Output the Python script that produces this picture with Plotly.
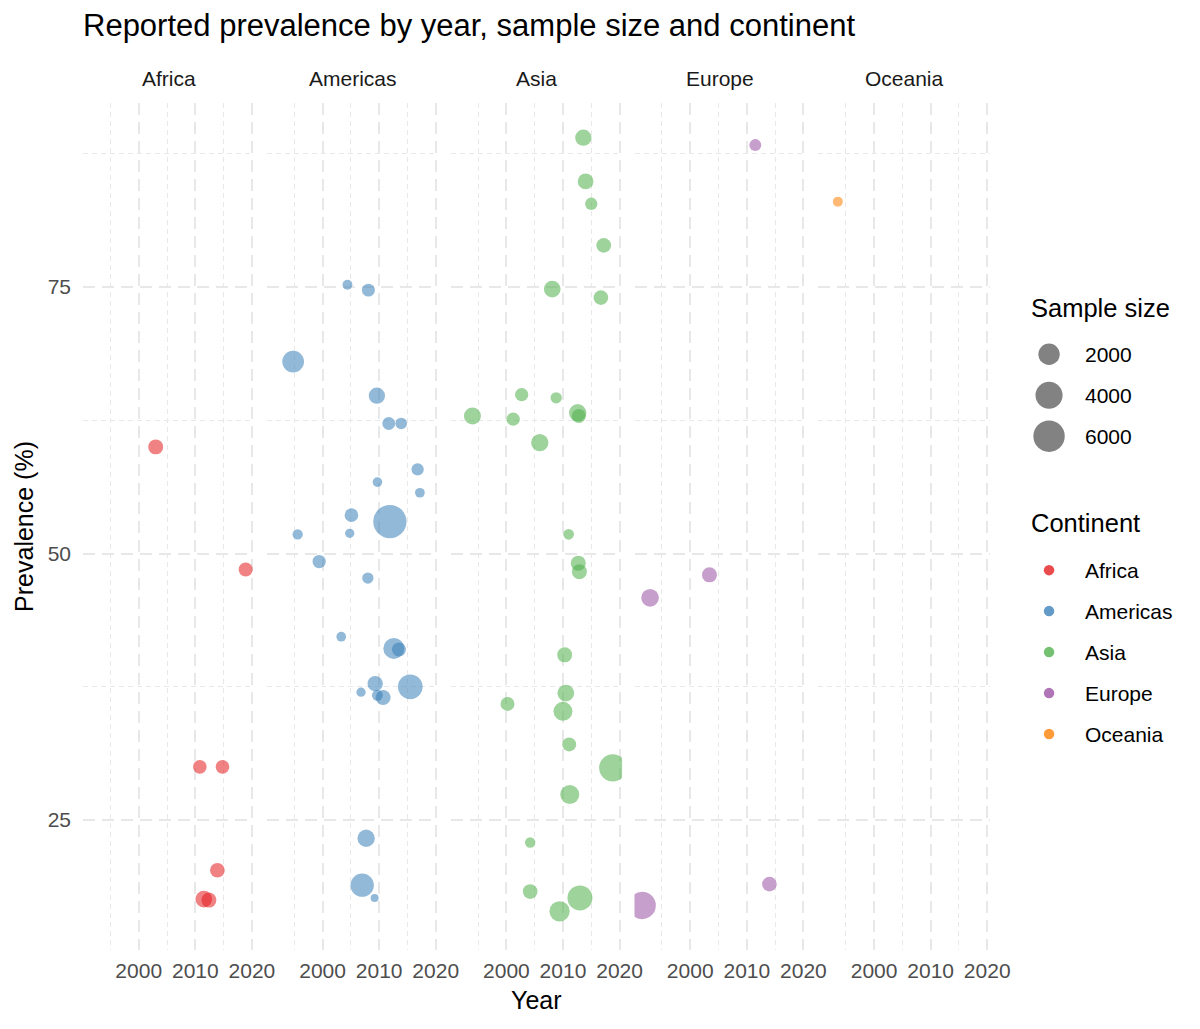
import math

import plotly.graph_objects as go

# data: year, prevalence (%), sample size
continents = ["Africa", "Americas", "Asia", "Europe", "Oceania"]
colors = ["#E41A1C", "#377EB8", "#4DAF4A", "#984EA3", "#FF7F00"]

africa_year = [2003.0, 2018.9, 2010.8, 2014.8, 2013.9, 2011.5, 2012.4]
africa_prev = [60.0, 48.5, 30.0, 30.0, 20.3, 17.6, 17.5]
africa_n = [580, 450, 410, 410, 546, 880, 590]

americas_year = [2004.4, 2008.1, 1994.8, 2009.6, 2011.7, 2013.9, 2016.8, 2009.7,
                 2017.2, 2005.1, 2011.9, 1995.6, 2004.8, 1999.4, 2008.0, 2003.3,
                 2012.6, 2013.5, 2009.3, 2015.5, 2006.8, 2009.7, 2010.7, 2007.7,
                 2007.0, 2009.2]
americas_prev = [75.2, 74.7, 68.0, 64.8, 62.2, 62.2, 57.9, 56.7,
                 55.7, 53.6, 53.0, 51.8, 51.9, 49.25, 47.7, 42.2,
                 41.1, 41.0, 37.8, 37.5, 37.0, 36.7, 36.5, 23.3,
                 18.9, 17.7]
americas_n = [100, 320, 2100, 800, 320, 200, 260, 90,
              93, 400, 7000, 117, 78, 365, 178, 91,
              1890, 450, 640, 3080, 78, 157, 590, 1000,
              2600, 60]

asia_year = [2013.6, 2014.0, 2015.0, 2017.2, 2008.1, 2016.7, 2002.7, 2008.8,
             1994.0, 2001.2, 2012.6, 2012.8, 2005.9, 2011.0, 2012.7, 2012.9,
             2010.3, 2000.2, 2010.5, 2010.0, 2011.1, 2018.8, 2011.2, 2004.2,
             2004.2, 2009.4, 2013.0]
asia_prev = [89.0, 84.9, 82.8, 78.9, 74.8, 74.0, 64.9, 64.6,
             62.9, 62.6, 63.2, 62.9, 60.4, 51.8, 49.1, 48.3,
             40.5, 35.9, 36.9, 35.2, 32.1, 29.9, 27.4, 22.9,
             18.3, 16.45, 17.7]
asia_n = [810, 700, 262, 546, 880, 546, 365, 178,
          940, 365, 1000, 450, 1000, 139, 590, 590,
          590, 450, 880, 1370, 450, 4100, 1370, 117,
          546, 1700, 3190]

europe_year = [2011.5, 2003.4, 1992.9, 1991.5, 2014.0]
europe_prev = [88.3, 48.0, 45.85, 17.0, 19.0]
europe_n = [234, 590, 1080, 4140, 546]

oceania_year = [1993.6]
oceania_prev = [83.0]
oceania_n = [103]

size_breaks = [2000, 4000, 6000]
x_ticks = [2000, 2010, 2020]
x_minor = [1995, 2005, 2015]
y_ticks = [25, 50, 75]
y_minor = [37.5, 62.5, 87.5]

years = [africa_year, americas_year, asia_year, europe_year, oceania_year]
prevs = [africa_prev, americas_prev, asia_prev, europe_prev, oceania_prev]
sizes = [africa_n, americas_n, asia_n, europe_n, oceania_n]

FONT = "Liberation Sans, Arial, Helvetica, sans-serif"
GRID = "#e8e8e8"
TICK = "#4d4d4d"
ALPHA = 0.78

# geometry: positions below are page pixels; the page body has an 8px margin
OFF = 8
W, H = 1200 - 2 * OFF, 1029 - 2 * OFF
ML, MR = 82.6 - OFF, 2
MT, MB = 102.7 - OFF, H - (950 - OFF)
PW = W - ML - MR
PH = H - MT - MB
PANEL_W, STEP = 171.5, 183.9

# area-style size scale like ggplot's scale_size
all_n = [v for s in sizes for v in s]
N_LO, N_HI = min(all_n), max(all_n)
D_MIN, D_MAX = 8, 33.3


def diam(n):
    return D_MIN + (D_MAX - D_MIN) * math.sqrt(max(n - N_LO, 0) / (N_HI - N_LO))


def rgba(hex_color, a):
    h = hex_color.lstrip("#")
    return f"rgba({int(h[0:2], 16)},{int(h[2:4], 16)},{int(h[4:6], 16)},{a})"


def px_x(p):
    return (p - OFF - ML) / PW


def px_y(p):
    return (H - MB - (p - OFF)) / PH


fig = go.Figure()
layout = {}
for i, cont in enumerate(continents):
    k = "" if i == 0 else str(i + 1)
    x0 = i * STEP / PW
    x1 = (i * STEP + PANEL_W) / PW
    layout[f"xaxis{k}"] = dict(
        domain=[x0, x1], range=[1990.15, 2020.45], anchor=f"y{k}",
        tickvals=x_ticks, ticks="", showline=False, zeroline=False,
        showgrid=True, gridcolor=GRID, gridwidth=1.8, griddash="12px,7px",
        minor=dict(tickvals=x_minor, showgrid=True, gridcolor=GRID,
                   gridwidth=0.9, griddash="5px,4px"),
        tickfont=dict(family=FONT, size=21, color=TICK),
        ticklabelstandoff=6,
    )
    layout[f"yaxis{k}"] = dict(
        domain=[0, 1], range=[12.82, 92.25], anchor=f"x{k}",
        tickvals=y_ticks, ticks="", showline=False, zeroline=False,
        showticklabels=(i == 0),
        showgrid=True, gridcolor=GRID, gridwidth=1.8, griddash="12px,7px",
        minor=dict(tickvals=y_minor, showgrid=True, gridcolor=GRID,
                   gridwidth=0.9, griddash="5px,4px"),
        tickfont=dict(family=FONT, size=21, color=TICK),
        ticklabelstandoff=11,
    )
    if i > 0:
        layout[f"yaxis{k}"]["matches"] = "y"

    fig.add_trace(go.Scatter(
        x=years[i], y=prevs[i], mode="markers", xaxis=f"x{k}", yaxis=f"y{k}",
        name=cont, showlegend=False,
        customdata=sizes[i],
        hovertemplate="%{x:.0f}<br>%{y:.1f}%<br>n=%{customdata}<extra>" + cont + "</extra>",
        marker=dict(size=[diam(n) for n in sizes[i]], sizemode="diameter",
                    color=rgba(colors[i], ALPHA), line=dict(width=0)),
    ))
    fig.add_annotation(
        text=cont, xref="paper", yref="paper", x=(x0 + x1) / 2, y=px_y(78),
        showarrow=False, xanchor="center", yanchor="middle",
        font=dict(family=FONT, size=21, color="#1a1a1a"),
    )

# legends drawn on a hidden axis whose units are page pixels
LEG_TOP, LEG_BOT, LEG_L, LEG_R = 285, 765, 1020, 1190
layout["xaxis6"] = dict(domain=[px_x(LEG_L), px_x(LEG_R)], range=[LEG_L, LEG_R],
                        visible=False, anchor="y6", fixedrange=True)
layout["yaxis6"] = dict(domain=[px_y(LEG_BOT), px_y(LEG_TOP)], range=[LEG_BOT, LEG_TOP],
                        visible=False, anchor="x6", fixedrange=True)
KEY_X, LABEL_X, TITLE_X, ROW = 1049, 1083, 1029, 41

size_rows = [354 + ROW * j for j in range(len(size_breaks))]
fig.add_trace(go.Scatter(
    x=[KEY_X] * len(size_breaks), y=size_rows, mode="markers",
    xaxis="x6", yaxis="y6", showlegend=False, hoverinfo="skip", cliponaxis=False,
    marker=dict(size=[diam(n) for n in size_breaks], sizemode="diameter",
                color="rgba(0,0,0,0.7)", line=dict(width=0)),
))
for yy, b in zip(size_rows, size_breaks):
    fig.add_annotation(text=str(b), xref="x6", yref="y6", x=LABEL_X, y=yy,
                       showarrow=False, xanchor="left", yanchor="middle",
                       font=dict(family=FONT, size=21, color="#000000"))

cont_rows = [570 + ROW * j for j in range(len(continents))]
fig.add_trace(go.Scatter(
    x=[KEY_X] * len(continents), y=cont_rows, mode="markers",
    xaxis="x6", yaxis="y6", showlegend=False, hoverinfo="skip", cliponaxis=False,
    marker=dict(size=10.5, color=[rgba(c, ALPHA) for c in colors], line=dict(width=0)),
))
for yy, cont in zip(cont_rows, continents):
    fig.add_annotation(text=cont, xref="x6", yref="y6", x=LABEL_X, y=yy,
                       showarrow=False, xanchor="left", yanchor="middle",
                       font=dict(family=FONT, size=21, color="#000000"))

for txt, yy in (("Sample size", 308), ("Continent", 523)):
    fig.add_annotation(text=txt, xref="x6", yref="y6", x=TITLE_X, y=yy,
                       showarrow=False, xanchor="left", yanchor="middle",
                       font=dict(family=FONT, size=25.5, color="#000000"))

# axis titles
fig.add_annotation(text="Year", xref="paper", yref="paper",
                   x=(4 * STEP + PANEL_W) / 2 / PW, y=px_y(1000), showarrow=False,
                   xanchor="center", yanchor="middle",
                   font=dict(family=FONT, size=25, color="#000000"))
fig.add_annotation(text="Prevalence (%)", xref="paper", yref="paper",
                   x=px_x(23), y=0.5, showarrow=False, textangle=-90,
                   xanchor="center", yanchor="middle",
                   font=dict(family=FONT, size=25, color="#000000"))

fig.update_layout(
    **layout,
    width=W, height=H, autosize=False,
    margin=dict(l=ML, r=MR, t=MT, b=MB, pad=0, autoexpand=False),
    paper_bgcolor="white", plot_bgcolor="white",
    font=dict(family=FONT, color="#000000"),
    title=dict(text="Reported prevalence by year, sample size and continent",
               x=(83 - OFF) / W, xanchor="left", y=1 - (25 - OFF) / H, yanchor="middle",
               font=dict(family=FONT, size=31, color="#000000")),
    showlegend=False,
)

fig.write_html("out.html", config={"responsive": False})
